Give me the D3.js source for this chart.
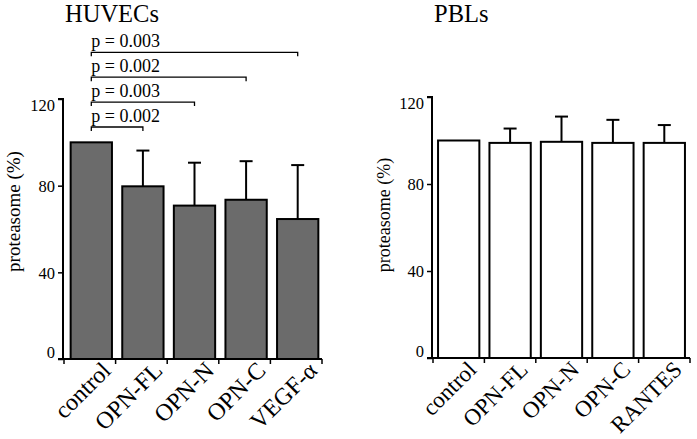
<!DOCTYPE html>
<html><head><meta charset="utf-8">
<script src="https://cdn.jsdelivr.net/npm/d3@7"></script>
<style>body{margin:0;background:#fff}svg{display:block}svg text{font-family:"Liberation Serif","Times New Roman",serif !important;fill:#000}</style>
</head><body>
<script>
// ---- data ----
const huvecCats = ["control", "OPN-FL", "OPN-N", "OPN-C", "VEGF-α"];
const huvecMean = [100, 79.7, 70.8, 73.5, 64.6];
const huvecSD   = [0, 16.5, 19.8, 17.8, 24.9];
const pblCats = ["control", "OPN-FL", "OPN-N", "OPN-C", "RANTES"];
const pblMean = [100, 98.9, 99.4, 98.9, 98.9];
const pblSD   = [0, 6.6, 11.6, 10.6, 8.2];
const yTicks = [0, 40, 80, 120];
const compTargets = ["OPN-FL", "OPN-N", "OPN-C", "VEGF-α"];
const compLabels = ["p = 0.002", "p = 0.003", "p = 0.002", "p = 0.003"];

const W = 697, H = 439;
const FONT = "'Liberation Serif','Times New Roman',serif";
const svg = d3.select("body").append("svg").attr("width", W).attr("height", H)
  .attr("font-family", FONT);

function panel(o) {
  const g = svg.append("g");
  const x = d3.scaleBand().domain(o.cats).range(o.xr);
  const y = d3.scaleLinear().domain([0, 120]).range(o.yr);
  const bw = 41.3;
  const cx = c => x(c) + x.bandwidth() / 2 + o.off;

  // bars
  g.selectAll("rect.bar").data(o.cats).join("rect")
    .attr("x", c => cx(c) - bw / 2)
    .attr("y", (c, i) => y(o.mean[i]))
    .attr("width", bw)
    .attr("height", (c, i) => y(0) - y(o.mean[i]))
    .attr("fill", o.fill).attr("stroke", "#000").attr("stroke-width", 2);

  // error bars
  o.cats.forEach((c, i) => {
    if (!o.sd[i]) return;
    const top = y(o.mean[i] + o.sd[i]);
    g.append("line").attr("x1", cx(c)).attr("x2", cx(c))
      .attr("y1", y(o.mean[i])).attr("y2", top)
      .attr("stroke", "#000").attr("stroke-width", 2);
    g.append("line").attr("x1", cx(c) - 6.5).attr("x2", cx(c) + 6.5)
      .attr("y1", top).attr("y2", top)
      .attr("stroke", "#000").attr("stroke-width", 2);
  });

  // y axis
  const ya = g.append("g").attr("transform", `translate(${o.xr[0] - 1},0)`)
    .call(d3.axisLeft(y).tickValues(yTicks).tickSize(5).tickPadding(3).tickFormat(d3.format("d")));
  ya.attr("font-family", FONT);
  ya.select(".domain").attr("stroke-width", 2).attr("d", `M-5,${y(120)}H0V${y(0)}`);
  ya.selectAll(".tick line").attr("stroke-width", 1.5);
  ya.selectAll(".tick text").style("font-size", "16.5px").style("font-family", FONT)
    .attr("dy", d => d === 0 ? "-0.1em" : d === 120 ? "0.7em" : "0.35em");

  // x axis
  const xa = g.append("g");
  xa.append("line").attr("x1", o.xr[0] - 6).attr("x2", o.xr[1])
    .attr("y1", y(0)).attr("y2", y(0)).attr("stroke", "#000").attr("stroke-width", 2);
  const edges = o.cats.map(c => x(c)).concat([o.xr[1]]);
  xa.selectAll("line.t").data(edges).join("line")
    .attr("x1", d => d).attr("x2", d => d)
    .attr("y1", y(0)).attr("y2", y(0) + 5)
    .attr("stroke", "#000").attr("stroke-width", 1.5);
  xa.selectAll("text").data(o.cats).join("text")
    .attr("transform", c => `translate(${cx(c) + o.ldx},${y(0) + 13}) rotate(-45)`)
    .attr("text-anchor", "end")
    .style("font-size", o.lfs).style("font-family", FONT)
    .text(c => c);

  // y label
  g.append("text")
    .attr("transform", `translate(${o.ylx},${o.yly}) rotate(-90)`)
    .attr("text-anchor", "middle").style("font-size", o.ylfs).style("font-family", FONT)
    .text("proteasome (%)");

  // title
  g.append("text").attr("x", o.xr[0] + 1).attr("y", 21.5)
    .style("font-size", "24.5px").style("font-family", FONT).text(o.title);

  return { g, x, y, cx };
}

const L = panel({ cats: huvecCats, mean: huvecMean, sd: huvecSD, xr: [64, 322], yr: [359, 99],
  off: 1.5, fill: "#6b6b6b", title: "HUVECs", ylx: 20, yly: 211.5, ylfs: "19px", lfs: "24px", ldx: 21 });
const R = panel({ cats: pblCats, mean: pblMean, sd: pblSD, xr: [433, 690], yr: [358, 97],
  off: 0, fill: "#fff", title: "PBLs", ylx: 390, yly: 215, ylfs: "18px", lfs: "23px", ldx: 19 });

// significance brackets (HUVECs)
const x0 = L.cx("control");
compTargets.forEach((t, i) => {
  const by = 127 - i * 24.9;
  const x1 = L.cx(t);
  L.g.append("path")
    .attr("d", `M${x0},${by + 4}V${by}H${x1}V${by + 4}`)
    .attr("fill", "none").attr("stroke", "#000").attr("stroke-width", 1.3);
  L.g.append("text").attr("x", x0).attr("y", by - 5)
    .style("font-size", "18px").style("font-family", FONT).text(compLabels[i]);
});
</script>
</body></html>
